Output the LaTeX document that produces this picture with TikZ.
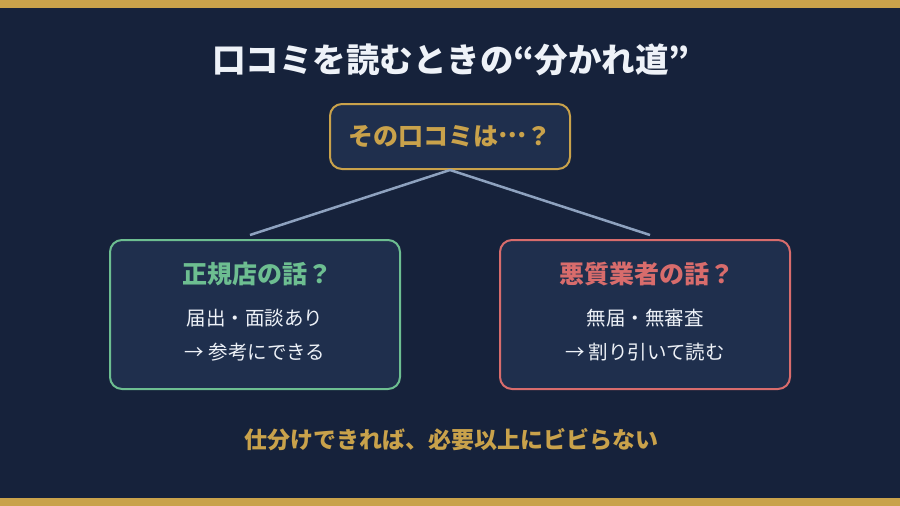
\documentclass[tikz,border=0pt]{standalone}
\usepackage{fontspec}
\setmainfont{Noto Sans CJK JP}
\usepackage{tikz}
\usetikzlibrary{positioning, calc}

\definecolor{navybg}{HTML}{16223B}
\definecolor{boxfill}{HTML}{1F2F4D}
\definecolor{gold}{HTML}{C9A24B}
\definecolor{okgreen}{HTML}{6DBE91}
\definecolor{badred}{HTML}{D86C6C}
\definecolor{linkgray}{HTML}{8EA2BF}
\definecolor{paper}{HTML}{EEF2F8}

\begin{document}
\begin{tikzpicture}[%
  x=1pt, y=-1pt,%
  card/.style={rectangle, draw, line width=2pt, fill=boxfill, rounded corners=12pt, minimum width=290pt, minimum height=149pt},%
  head/.style={font=\fontsize{25}{29}\selectfont\bfseries},%
  line/.style={text=paper, font=\fontsize{19.5}{23}\selectfont},%
  link/.style={draw=linkgray, line width=2.5pt}%
]
  % background and gold bars
  \fill[navybg] (0,0) rectangle (900,506);
  \fill[gold] (0,0) rectangle (900,8);
  \fill[gold] (0,498) rectangle (900,506);
  \useasboundingbox (0,0) rectangle (900,506);

  \node[text=paper, font=\fontsize{33.5}{38}\selectfont\bfseries] (title) at (451,60) {口コミを読むときの“分かれ道”};

  \node[rectangle, draw=gold, line width=2pt, fill=boxfill, rounded corners=12pt, minimum width=240pt, minimum height=65pt, text=gold, font=\fontsize{25}{29}\selectfont\bfseries] (ask) at (450,136.5) {その口コミは\raisebox{0.32em}{…}？};

  \node[card, draw=okgreen] (good) at (255,314.5) {};
  \node[card, draw=badred] (bad) at (645,314.5) {};

  \coordinate (goodtop) at (250,235);
  \coordinate (badtop) at (650,235);
  \draw[link] (ask.south) -- (goodtop);
  \draw[link] (ask.south) -- (badtop);

  \node[head, text=okgreen] (goodhead) at (257,274) {正規店の話？};
  \node[line] (good1) at (255,318) {届出・面談あり};
  \node[line] (good2) at (255,352) {→ 参考にできる};

  \node[head, text=badred] (badhead) at (647,274) {悪質業者の話？};
  \node[line] (bad1) at (645,318) {無届・無審査};
  \node[line] (bad2) at (645,352) {→ 割り引いて読む};

  \node[text=gold, font=\fontsize{23}{27}\selectfont\bfseries] (moral) at (451,440) {仕分けできれば、必要以上にビビらない};
\end{tikzpicture}
\end{document}
